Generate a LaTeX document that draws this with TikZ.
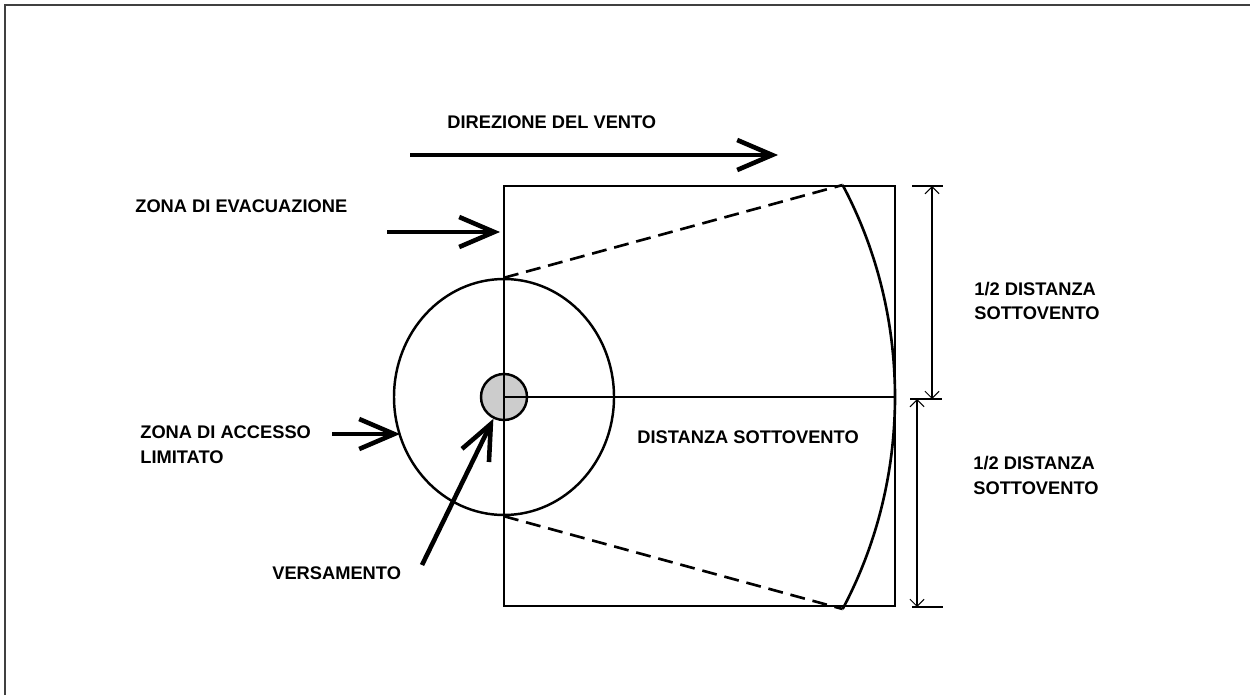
\documentclass[tikz,border=0pt]{standalone}
\usepackage{fontspec}
\setmainfont{Liberation Sans}
\usepackage{tikz}
\usetikzlibrary{arrows.meta}
\usetikzlibrary{shapes.geometric}

\begin{document}
\begin{tikzpicture}
[labeldecorate/.style={inner sep=0pt,anchor=west,align=left,font=\fontsize{10.4}{14}\selectfont\bfseries},%
  bigarrow/.style={line width=2.6pt,-{Straight Barb[length=0.7cm,width=0.6cm]}},%
  measurearrow/.style={line width=1.4pt,>={Straight Barb[length=4pt,width=8pt,line width=0.6pt]},<->},%
  linedecorate/.style={-,line width=1.5pt}]
\useasboundingbox (0,0) rectangle (25,13.9);
%% frame
\draw[line width=1.1pt,black!75] (0.1,0) -- (0.1,13.8) -- (25,13.8);
%% spill point and zones
\coordinate (c) at (10.08,5.96);
\node (spill) at (c) [shape=circle,draw,line width=1.4pt,fill=black!20,minimum size=0.92cm,inner sep=0pt] {};
\node (zone) at (c) [shape=ellipse,draw,line width=1.4pt,minimum width=4.4cm,minimum height=4.72cm,inner sep=0pt] {};
\coordinate (arcN) at ([shift={(30:7.82 and 8.48)}]c);
\coordinate (arcS) at ([shift={(-30:7.82 and 8.48)}]c);
\coordinate (arcE) at (17.9,5.96);
\draw[linedecorate] (10.08,1.78) rectangle (17.9,10.18);
\draw[linedecorate] (c) -- (arcE);
\draw[linedecorate] (arcS) arc[start angle=-30,end angle=30,x radius=7.82,y radius=8.48];
\draw[linedecorate,dash pattern=on 8.5pt off 4.5pt] (zone.north) -- (arcN);
\draw[linedecorate,dash pattern=on 8.5pt off 4.5pt] (zone.south) -- (arcS);
%% labels
\foreach \nodename/\x/\y/\labeltext in {wind/8.94/11.46/{DIREZIONE DEL VENTO},
  evac/2.7/9.78/{ZONA DI EVACUAZIONE}, access/2.8/5.0/{ZONA DI ACCESSO\\LIMITATO},
  vers/5.44/2.44/{VERSAMENTO}, dist/12.74/5.16/{DISTANZA SOTTOVENTO},
  halfA/19.48/7.88/{1/2 DISTANZA\\SOTTOVENTO}, halfB/19.46/4.39/{1/2 DISTANZA\\SOTTOVENTO}}
{
  \node (\nodename) at (\x,\y) [labeldecorate] {\labeltext};
}
%% arrows
\coordinate (windS) at (8.2,10.8);
\coordinate (windE) at (15.56,10.8);
\coordinate (evacS) at (7.74,9.26);
\coordinate (evacE) at (10.0,9.26);
\coordinate (accS) at (6.64,5.22);
\coordinate (accE) at (8.0,5.22);
\coordinate (versS) at (8.44,2.6);
\draw[bigarrow] (windS) -- (windE);
\draw[bigarrow] (evacS) -- (evacE);
\draw[bigarrow] (accS) -- (accE);
\draw[bigarrow] (versS) -- (spill);
%% dimensions
\foreach \tickname/\xa/\xb/\y in {tickN/18.24/18.86/10.18, tickM/18.2/18.84/5.92, tickS/18.24/18.86/1.76}
{
  \coordinate (\tickname w) at (\xa,\y);
  \coordinate (\tickname e) at (\xb,\y);
  \draw[line width=1.4pt] (\tickname w) -- (\tickname e);
}
\coordinate (dimAn) at (18.64,10.18);
\coordinate (dimAs) at (18.64,5.92);
\coordinate (dimBn) at (18.34,5.92);
\coordinate (dimBs) at (18.34,1.76);
\draw[measurearrow] (dimAn) -- (dimAs);
\draw[measurearrow] (dimBn) -- (dimBs);
\end{tikzpicture}
\end{document}
